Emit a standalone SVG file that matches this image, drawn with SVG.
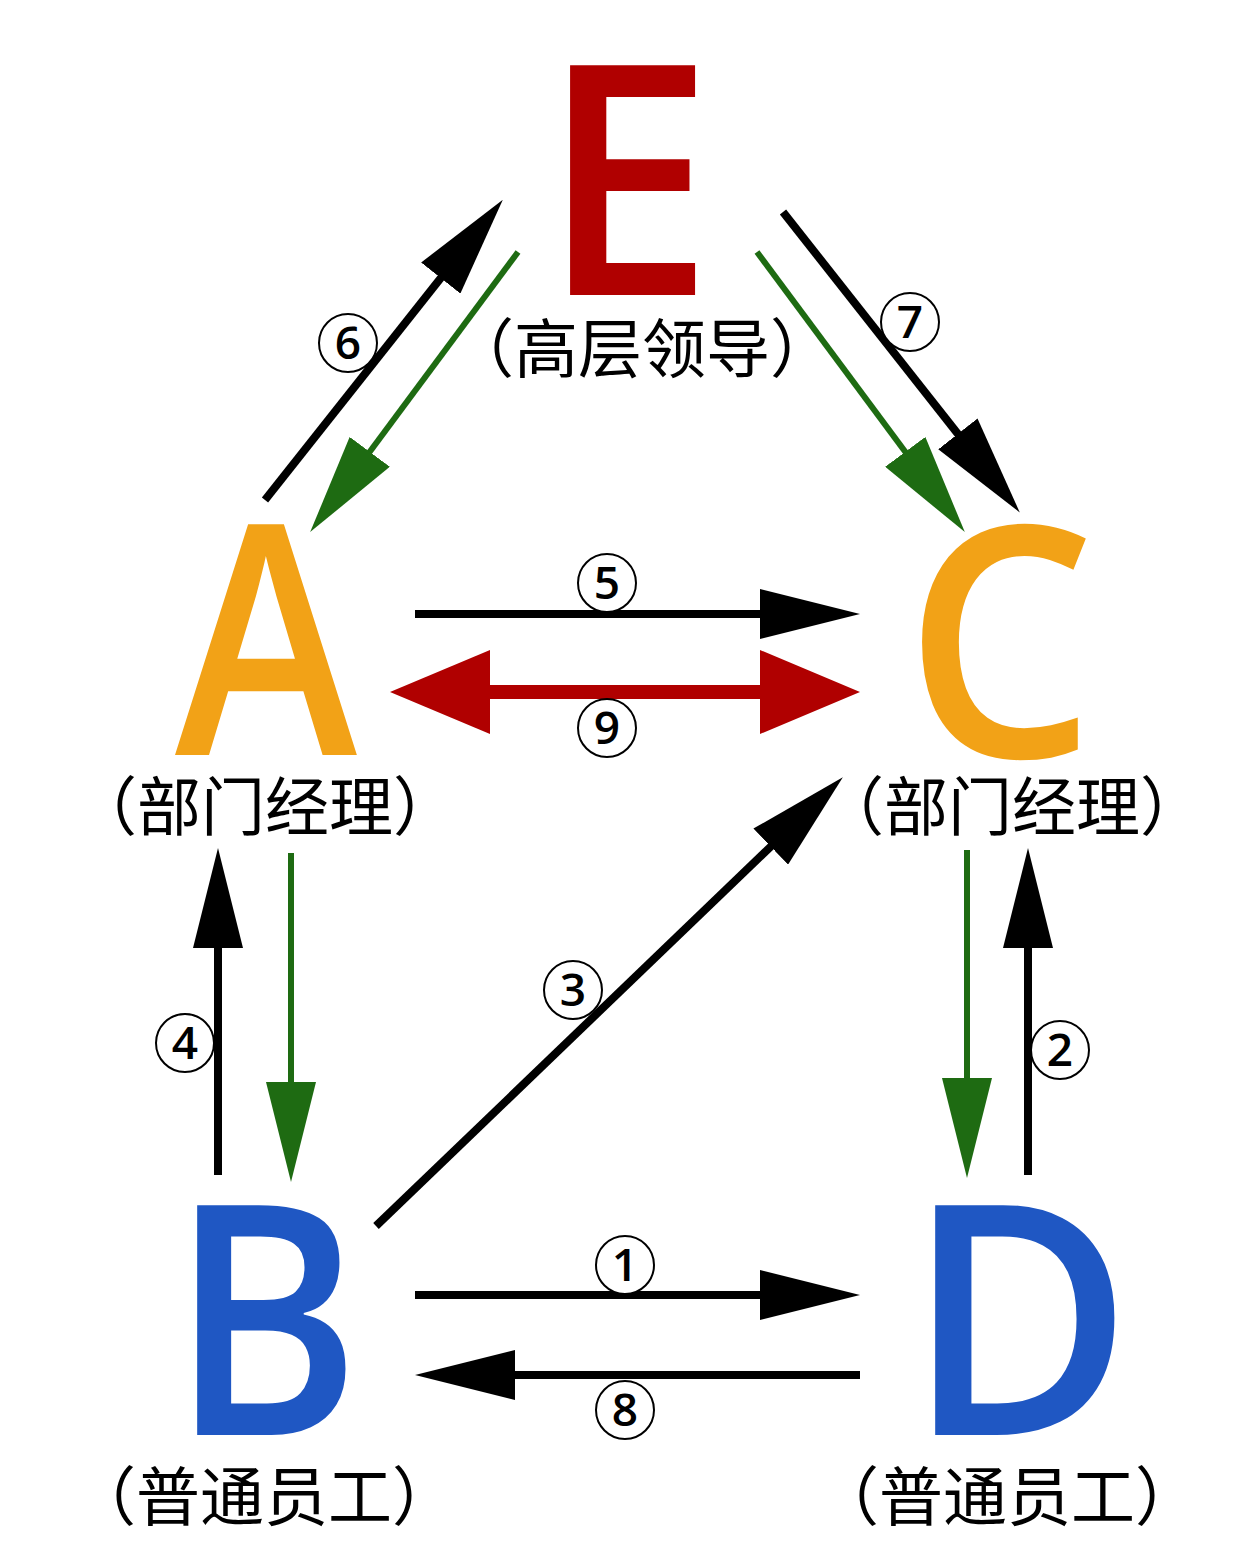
<svg xmlns="http://www.w3.org/2000/svg" width="1240" height="1556" viewBox="0 0 1240 1556">
<style>
.big{font-family:"Open Sans","Liberation Sans",sans-serif;font-weight:600;font-size:322px}
.lbl{font-family:"Noto Sans CJK SC","Noto Sans",sans-serif;font-size:64px;fill:#000;text-anchor:middle}
.num{font-family:"Open Sans","Liberation Sans",sans-serif;font-size:46px;font-weight:600;text-anchor:middle}
.cir{fill:#fff;stroke:#000;stroke-width:2}
.k{stroke:#000;stroke-width:8;fill:none;marker-end:url(#hk)}
.g{stroke:#1e6b12;stroke-width:6;fill:none;marker-end:url(#hg)}
</style>
<defs>
<marker id="hk" markerUnits="userSpaceOnUse" markerWidth="100" markerHeight="50" refX="60" refY="25" orient="auto"><path d="M0,0 L100,25 L0,50 z" fill="#000"/></marker>
<marker id="hg" markerUnits="userSpaceOnUse" markerWidth="100" markerHeight="50" refX="60" refY="25" orient="auto"><path d="M0,0 L100,25 L0,50 z" fill="#1e6b12"/></marker>
<marker id="hr" markerUnits="userSpaceOnUse" markerWidth="100" markerHeight="84" refX="60" refY="42" orient="auto-start-reverse"><path d="M0,0 L100,42 L0,84 z" fill="#b00000"/></marker>
</defs>
<g id="E"><text class="big" x="568" y="295" transform="translate(568,0) scale(0.96,1) translate(-568,0)" fill="#b00000" dx="-28">E</text><text class="lbl" x="642" y="372">（高层领导）</text></g>
<g id="A"><text class="big" transform="translate(175,755) scale(0.855,1)" x="0" y="0" fill="#f2a217">A</text><text class="lbl" x="265" y="830">（部门经理）</text></g>
<g id="C"><text class="big" transform="translate(920,757) scale(0.94,1)" x="-17" y="0" fill="#f2a217">C</text><text class="lbl" x="1012" y="830">（部门经理）</text></g>
<g id="B"><text class="big" transform="translate(197,1435) scale(0.9,1)" x="-30" y="0" fill="#1f57c3">B</text><text class="lbl" x="264" y="1520">（普通员工）</text></g>
<g id="D"><text class="big" transform="translate(935,1435) scale(0.96,1)" x="-30" y="0" fill="#1f57c3">D</text><text class="lbl" x="1007" y="1520">（普通员工）</text></g>
<g id="connectors">
<line class="k" x1="265" y1="500" x2="478" y2="231"/>
<line class="g" x1="518" y1="252" x2="334" y2="500"/>
<line class="k" x1="783" y1="212" x2="995" y2="481"/>
<line class="g" x1="757" y1="252" x2="941" y2="500"/>
<line class="k" x1="415" y1="614" x2="820" y2="614"/>
<line x1="430" y1="692" x2="820" y2="692" stroke="#b00000" stroke-width="14" marker-start="url(#hr)" marker-end="url(#hr)"/>
<line class="k" x1="218" y1="1175" x2="218" y2="888"/>
<line class="g" x1="291" y1="853" x2="291" y2="1142"/>
<line class="k" x1="376" y1="1226" x2="814" y2="805"/>
<line class="g" x1="967" y1="850" x2="967" y2="1138"/>
<line class="k" x1="1028" y1="1175" x2="1028" y2="888"/>
<line class="k" x1="415" y1="1295" x2="820" y2="1295"/>
<line class="k" x1="860" y1="1375" x2="455" y2="1375"/>
<g><circle class="cir" cx="348" cy="343" r="29"/><text class="num" x="348" y="359">6</text></g>
<g><circle class="cir" cx="910" cy="322" r="29"/><text class="num" x="910" y="338">7</text></g>
<g><circle class="cir" cx="607" cy="583" r="29"/><text class="num" x="607" y="599">5</text></g>
<g><circle class="cir" cx="607" cy="728" r="29"/><text class="num" x="607" y="744">9</text></g>
<g><circle class="cir" cx="573" cy="990" r="29"/><text class="num" x="573" y="1006">3</text></g>
<g><circle class="cir" cx="185" cy="1043" r="29"/><text class="num" x="185" y="1059">4</text></g>
<g><circle class="cir" cx="1060" cy="1050" r="29"/><text class="num" x="1060" y="1066">2</text></g>
<g><circle class="cir" cx="625" cy="1265" r="29"/><text class="num" x="625" y="1281">1</text></g>
<g><circle class="cir" cx="625" cy="1410" r="29"/><text class="num" x="625" y="1426">8</text></g>
</g>
</svg>
